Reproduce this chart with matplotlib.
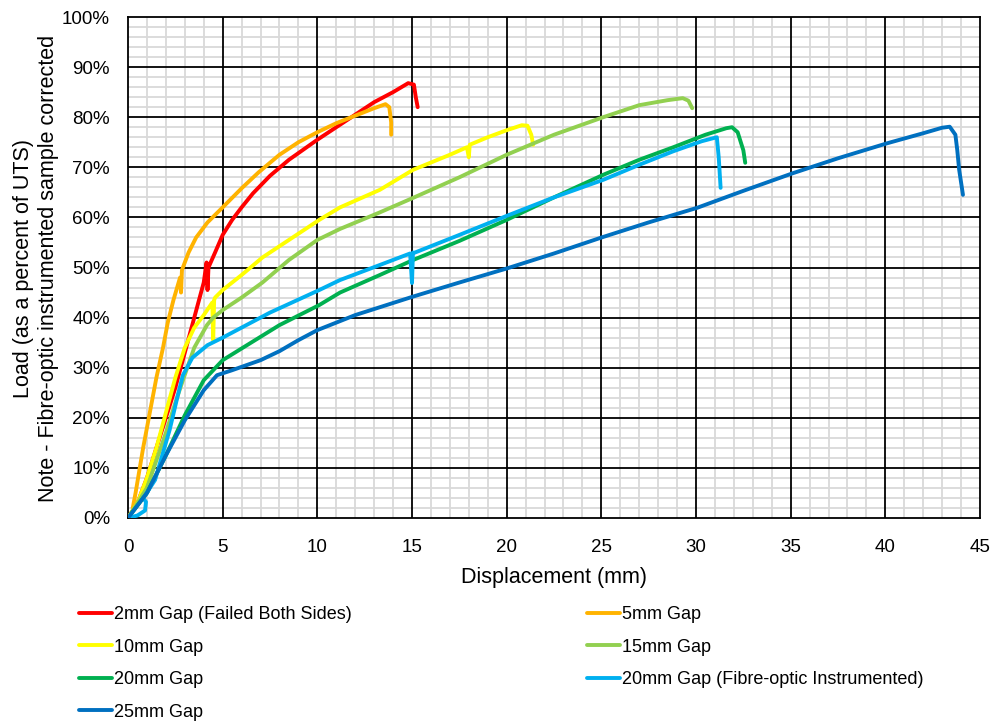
import numpy as np
import matplotlib
matplotlib.use("Agg")
import matplotlib.pyplot as plt
from matplotlib.ticker import MultipleLocator, PercentFormatter

# displacement (mm) / load (% of UTS)
gap2_x = [0, 0.5, 1, 1.5, 2, 2.5, 3, 3.5, 4.0, 4.15, 4.2, 4.25, 4.6, 5, 5.5, 6, 6.6, 7.5,
          8.5, 10, 11, 12, 13, 14, 14.8, 15.1, 15.2, 15.3]
gap2_y = [0, 3, 8, 14, 20, 26, 33, 40, 47, 51, 45.5, 50, 53, 56.5, 59.5, 62, 64.8, 68.3,
          71.5, 75.5, 78, 80.5, 83, 85, 86.8, 86.5, 84, 82]

gap5_x = [0.25, 0.4, 0.8, 1.2, 1.5, 1.85, 2.1, 2.4, 2.75, 2.8, 2.85, 3.2, 3.6, 4.2, 5, 6,
          6.9, 8, 9, 10, 11, 12, 13, 13.6, 13.8, 13.9, 13.9]
gap5_y = [2, 5, 14, 22, 28, 34, 39, 43.5, 48, 45, 49.5, 53, 56, 59, 62, 65.8,
          69, 72.5, 75, 77, 78.8, 80.3, 81.8, 82.6, 82, 79, 76.5]

gap10_x = [0, 0.5, 1, 1.5, 2, 2.5, 3, 3.5, 4, 4.45, 4.5, 4.55, 4.6, 5, 6, 7.1, 8.5, 10.1,
           11.2, 13.3, 15.06, 17, 17.9, 18.0, 18.05, 19, 20, 20.8, 21.1, 21.3, 21.4]
gap10_y = [0, 3, 8, 14, 21, 28, 34, 38, 40.5, 43, 35.5, 43.5, 44, 45.5, 48.5, 52, 55.5, 59.5,
           62, 65.5, 69.5, 72.5, 74, 72, 74.5, 76, 77.4, 78.4, 78.3, 76.5, 74.5]

gap15_x = [0, 1, 2, 2.5, 2.9, 3.5, 4.17, 4.5, 5, 6, 7.1, 8.5, 10, 11.2, 13.3, 15.06, 17.5,
           20, 22.5, 25.1, 27, 28.5, 29.3, 29.6, 29.8]
gap15_y = [0, 6, 17, 23, 27.5, 34, 38.5, 40, 41.5, 44, 47, 51.5, 55.5, 57.7, 61, 63.9, 68,
           72.5, 76.5, 80, 82.4, 83.4, 83.8, 83.3, 81.8]

gap20_x = [0, 1, 2, 3, 4.0, 4.5, 5, 6.5, 8, 10.1, 11.2, 13.3, 15.06, 17.5, 20, 22.5,
           25.1, 27, 28.8, 30.5, 31.6, 31.9, 32.2, 32.5, 32.6]
gap20_y = [0, 5, 12.5, 20.5, 27.5, 29.5, 31.5, 35, 38.5, 42.5, 45, 48.5, 51.5, 55.3, 59.5, 64,
           68.5, 71.5, 74, 76.5, 77.8, 78, 77, 73.4, 70.9]

gap20fo_x = [0, 0.5, 0.9, 0.95, 0.8, 0.9, 1.43, 2.2, 2.6, 2.9, 3.4, 4.2, 5, 7.5, 10.1,
             11.2, 13.3, 14.9, 15.0, 15.05, 15.1, 17.5, 20, 22.5, 25.1, 27, 28.8, 30.3,
             30.9, 31.1, 31.2, 31.3]
gap20fo_y = [0, 0.5, 1.5, 3.2, 4.0, 4.5, 7.6, 17.6, 24, 28.5, 32, 34.5, 36, 41, 45.5,
             47.5, 50.5, 52.8, 46.9, 53, 52.9, 56.5, 60.3, 64, 67.5, 70.5, 73.2, 75.2,
             75.8, 76, 72, 65.9]

gap25_x = [0, 1, 2, 3, 4, 4.7, 5.5, 7, 8, 9, 10, 12, 15.06, 17.5, 20, 22.5, 25.1, 27.5,
           30.05, 32.5, 35.1, 37.5, 40.1, 42, 43.0, 43.4, 43.7, 43.8, 43.9, 44.0, 44.1]
gap25_y = [0, 5, 12.5, 19.5, 25.5, 28.5, 29.5, 31.5, 33.3, 35.5, 37.5, 40.5, 44.2, 47, 49.8,
           52.8, 56.1, 59, 61.9, 65.3, 68.8, 71.8, 74.8, 76.8, 77.9, 78.1, 76.5, 73.4,
           69.5, 67, 64.5]

series = [
    ("2mm Gap (Failed Both Sides)", gap2_x, gap2_y, "#FF0000"),
    ("5mm Gap", gap5_x, gap5_y, "#FFB300"),
    ("10mm Gap", gap10_x, gap10_y, "#FFFF00"),
    ("15mm Gap", gap15_x, gap15_y, "#92D050"),
    ("20mm Gap", gap20_x, gap20_y, "#00B050"),
    ("20mm Gap (Fibre-optic Instrumented)", gap20fo_x, gap20fo_y, "#00B0F0"),
    ("25mm Gap", gap25_x, gap25_y, "#0070C0"),
]

plt.rcParams['font.family'] = ['Liberation Sans', 'DejaVu Sans']

fig = plt.figure(figsize=(9.96, 7.22), dpi=100)
ax = fig.add_axes([128 / 996, 1 - 518 / 722, 852 / 996, 501 / 722])

handles = {}
for label, xs, ys, col in series:
    line, = ax.plot(xs, ys, color=col, lw=2.8, solid_capstyle='round',
                    solid_joinstyle='round', zorder=3)
    handles[label] = line

ax.set_xlim(0, 45)
ax.set_ylim(0, 100)
ax.xaxis.set_major_locator(MultipleLocator(5))
ax.yaxis.set_major_locator(MultipleLocator(10))
ax.yaxis.set_major_formatter(PercentFormatter(decimals=0))

# grid drawn by hand so the black lines always sit over the grey ones
for v in np.arange(1, 45):
    if v % 5:
        ax.axvline(v, color='#d9d9d9', lw=1.3, zorder=0.5)
for v in np.arange(2, 100, 2):
    if v % 10:
        ax.axhline(v, color='#d9d9d9', lw=1.3, zorder=0.5)
for v in np.arange(5, 45, 5):
    ax.axvline(v, color='black', lw=1.3, zorder=1)
for v in np.arange(10, 100, 10):
    ax.axhline(v, color='black', lw=1.3, zorder=1)

ax.tick_params(axis='x', length=0, labelsize=13.5, pad=15)
ax.tick_params(axis='y', length=0, labelsize=13.5, pad=13)
for s in ax.spines.values():
    s.set_color('black')
    s.set_linewidth(1.3)

fig.text(554 / 996, 1 - 578 / 722, "Displacement (mm)", fontsize=15.5,
         ha='center', va='center')
fig.text(36 / 996, 1 - 268 / 722,
         "Load (as a percent of UTS)\nNote - Fibre-optic instrumented sample corrected",
         fontsize=15.5, rotation=90, ha='center', va='center', linespacing=1.3)

# Excel style legend, filled row by row in two columns
left = [series[i][0] for i in (0, 2, 4, 6)]
right = [series[i][0] for i in (1, 3, 5)]
for labels, x0 in ((left, 70 / 996), (right, 578 / 996)):
    fig.legend([handles[l] for l in labels], labels, loc='upper left',
               bbox_to_anchor=(x0, 1 - 597 / 722), frameon=False, fontsize=13,
               handlelength=1.8, handletextpad=0.15, labelspacing=0.86,
               borderpad=0)

fig.savefig("out.png", dpi=100)
